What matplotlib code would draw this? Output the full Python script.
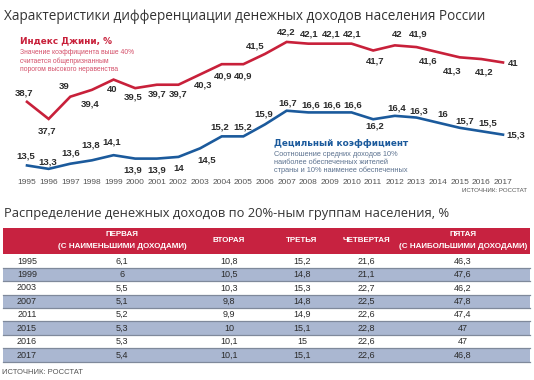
import matplotlib
matplotlib.use('Agg')
import matplotlib.pyplot as plt
import matplotlib.transforms as mtransforms
from matplotlib.patches import Rectangle

# ---------------- data ----------------
years = list(range(1995, 2018))
gini = [38.7, 37.7, 39.0, 39.4, 40.0, 39.5, 39.7, 39.7, 40.3, 40.9, 40.9, 41.5,
        42.2, 42.1, 42.1, 42.1, 41.7, 42.0, 41.9, 41.6, 41.3, 41.2, 41.0]
decile = [13.5, 13.3, 13.6, 13.8, 14.1, 13.9, 13.9, 14.0, 14.5, 15.2, 15.2, 15.9,
          16.7, 16.6, 16.6, 16.6, 16.2, 16.4, 16.3, 16.0, 15.7, 15.5, 15.3]

table_years = [1995, 1999, 2003, 2007, 2011, 2015, 2016, 2017]
q1 = [6.1, 6.0, 5.5, 5.1, 5.2, 5.3, 5.3, 5.4]
q2 = [10.8, 10.5, 10.3, 9.8, 9.9, 10.0, 10.1, 10.1]
q3 = [15.2, 14.8, 15.3, 14.8, 14.9, 15.1, 15.0, 15.1]
q4 = [21.6, 21.1, 22.7, 22.5, 22.6, 22.8, 22.6, 22.6]
q5 = [46.3, 47.6, 46.2, 47.8, 47.4, 47.0, 47.0, 46.8]
col_headers = [("ПЕРВАЯ", "(С НАИМЕНЬШИМИ ДОХОДАМИ)"), ("ВТОРАЯ",), ("ТРЕТЬЯ",),
               ("ЧЕТВЕРТАЯ",), ("ПЯТАЯ", "(С НАИБОЛЬШИМИ ДОХОДАМИ)")]

# ---------------- styling ----------------
# label offsets (px, right / down) for each point
gini_off = [(-3, -9), (-2, 12), (-6, -10), (-2, 14), (-1, 10), (-2, 9), (0, 9), (0, 9),
            (3, 11), (1, 12), (0, 12), (-10, -8), (0, -10), (1, -10), (1, -10), (1, -10),
            (2, 11), (2, -11), (2, -13), (-10, 9), (-8, 14), (3, 13), (10, 1)]
dec_off = [(-1, -9), (-1, -7), (0, -11), (-1, -15), (-2, -13), (-2, 11), (0, 11), (0, 12),
           (7, 12), (-2, -9), (-1, -9), (-1, -10), (1, -8), (2, -7), (2, -7), (1, -7),
           (2, 7), (2, -8), (2, -7), (5, -8), (5, -7), (6, -8), (13, 0)]

RED = '#c8203a'
BLUE = '#1b5a9c'
HEAD_RED = '#c72240'
ROW_BLUE = '#aab7d1'
TXT = '#2b2b2b'
NARROW = ['Liberation Sans Narrow', 'Liberation Sans', 'DejaVu Sans']
TITLEF = ['Open Sans', 'DejaVu Sans']

W, H = 534, 380
fig = plt.figure(figsize=(W / 100, H / 100), dpi=100)
fig.patch.set_facecolor('white')
renderer = fig.canvas.get_renderer()


def px_rect(l, t, r, b):
    return [l / W, 1 - b / H, (r - l) / W, (b - t) / H]


ov = fig.add_axes([0, 0, 1, 1])
ov.set_xlim(0, W)
ov.set_ylim(H, 0)
ov.axis('off')


def fmt(v):
    return f"{v:g}".replace('.', ',')


def fit(ax, x, y, s, width, **kw):
    t = ax.text(x, y, s, fontsize=10, **kw)
    w = t.get_window_extent(renderer).width
    t.set_fontsize(10 * width / w)
    return t


# ---------------- top chart ----------------
ax_g = fig.add_axes(px_rect(0, 25, W, 185))
ax_d = fig.add_axes(px_rect(0, 25, W, 185))
for a in (ax_g, ax_d):
    a.set_xlim(1993.752, 2018.433)
    a.axis('off')
    a.patch.set_alpha(0)
ax_g.set_ylim(33.84, 43.19)
ax_d.set_ylim(12.357, 21.71)

ax_g.plot(years, gini, color=RED, lw=1.9, solid_joinstyle='miter')
ax_d.plot(years, decile, color=BLUE, lw=1.9, solid_joinstyle='miter')

for yr, v, (dx, dy) in zip(years, gini, gini_off):
    ax_g.annotate(fmt(v), (yr, v), xytext=(dx * 0.72, -dy * 0.72), textcoords='offset points',
                  ha='center', va='center', fontsize=6.8, family=NARROW, color=TXT,
                  fontweight='bold')
for yr, v, (dx, dy) in zip(years, decile, dec_off):
    ax_d.annotate(fmt(v), (yr, v), xytext=(dx * 0.72, -dy * 0.72), textcoords='offset points',
                  ha='center', va='center', fontsize=6.8, family=NARROW, color=TXT,
                  fontweight='bold')

btr = mtransforms.blended_transform_factory(ax_g.transData, ov.transData)
for yr in years:
    ov.text(yr, 182, str(yr), transform=btr, ha='center', va='center', fontsize=6.0,
            family=NARROW, color='#555555')

fit(ov, 4, 16, "Характеристики дифференциации денежных доходов населения России", 483,
    family=TITLEF, color='#333333', va='center', ha='left')

fit(ov, 20, 41, "Индекс Джини, %", 92, family=['DejaVu Sans'], fontweight='bold',
    color=RED, va='center', ha='left')
gd = ["Значение коэффициента выше 40%", "считается общепризнанным",
      "порогом высокого неравенства"]
t0 = fit(ov, 20, 53, gd[0], 115, family=NARROW, color='#d4506a', va='center', ha='left')
fs = t0.get_fontsize()
for i, s in enumerate(gd[1:]):
    ov.text(20, 61.5 + i * 8.3, s, fontsize=fs, family=NARROW, color='#d4506a',
            va='center', ha='left')

fit(ov, 274, 143, "Децильный коэффициент", 133, family=['DejaVu Sans'], fontweight='bold',
    color=BLUE, va='center', ha='left')
dd = ["Соотношение средних доходов 10%", "наиболее обеспеченных жителей",
      "страны и 10% наименее обеспеченных"]
t1 = fit(ov, 274, 154, dd[0], 125, family=NARROW, color='#5d7390', va='center', ha='left')
fs = t1.get_fontsize()
for i, s in enumerate(dd[1:]):
    ov.text(274, 162.3 + i * 8.3, s, fontsize=fs, family=NARROW, color='#5d7390',
            va='center', ha='left')

fit(ov, 527, 191, "ИСТОЧНИК: РОССТАТ", 65, family=NARROW, color='#555555',
    va='center', ha='right')

# ---------------- table ----------------
fit(ov, 4, 214, "Распределение денежных доходов по 20%-ным группам населения, %", 443,
    family=TITLEF, color='#333333', va='center', ha='left')

TL, TR = 3, 530
ov.add_patch(Rectangle((TL, 228), TR - TL, 26, facecolor=HEAD_RED, edgecolor='none'))
col_x = [122, 229, 302, 366, 463]
for cx, hdr in zip(col_x, col_headers):
    if len(hdr) == 2:
        ov.text(cx, 234.5, hdr[0], ha='center', va='center', color='white',
                family=NARROW, fontweight='bold', fontsize=5.8)
        ov.text(cx, 246, hdr[1], ha='center', va='center', color='white',
                family=NARROW, fontweight='bold', fontsize=5.8)
    else:
        ov.text(cx, 240.5, hdr[0], ha='center', va='center', color='white',
                family=NARROW, fontweight='bold', fontsize=5.8)

row0, rstep = 261.0, 13.43
cols = [q1, q2, q3, q4, q5]
for i, yr in enumerate(table_years):
    yc = row0 + i * rstep
    if i % 2 == 1:
        ov.add_patch(Rectangle((TL, yc - rstep / 2), TR - TL, rstep,
                               facecolor=ROW_BLUE, edgecolor='none'))
    ov.plot([TL, TR], [yc + rstep / 2, yc + rstep / 2], color='#7f899b', lw=0.9)
    ov.text(27, yc, str(yr), ha='center', va='center', fontsize=6.5, family=NARROW, color=TXT)
    for cx, col in zip(col_x, cols):
        ov.text(cx, yc, fmt(col[i]), ha='center', va='center', fontsize=6.5,
                family=NARROW, color=TXT)

fit(ov, 2, 372, "ИСТОЧНИК: РОССТАТ", 80, family=NARROW, color='#555555',
    va='center', ha='left')

fig.savefig('out.png', dpi=100, facecolor='white')
